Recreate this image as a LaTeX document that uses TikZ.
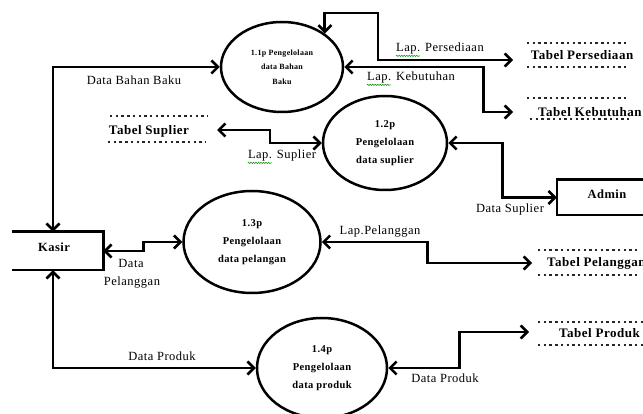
\documentclass[tikz,border=0pt]{standalone}
\usepackage{fontspec}
\setmainfont{Liberation Serif}[LetterSpace=4]
\usetikzlibrary{arrows.meta,shapes.geometric,decorations.pathmorphing}

\tikzset{
  proc/.style={ellipse, draw, line width=2.5pt, inner sep=0pt, align=center,
    font=\fontsize{10.5}{18}\selectfont\bfseries},
  flow/.style={line width=2.8pt, line join=miter,
    {Straight Barb[length=6.5pt,width=13pt,line width=2.6pt]}-{Straight Barb[length=6.5pt,width=13pt,line width=2.6pt]}},
  flowlabel/.style={font=\fontsize{12.5}{14}\selectfont, inner sep=0pt},
  storetext/.style={font=\fontsize{13}{15}\selectfont\bfseries, inner sep=0pt},
  storeline/.style={line width=2.4pt, dash pattern=on 2.4pt off 3.3pt, color=black!85},
  entity/.style={line width=2.6pt},
  entitytext/.style={font=\fontsize{12.5}{14}\selectfont\bfseries, inner sep=0pt},
  spell/.style={draw=green!55!black, line width=0.5pt,
    decorate, decoration={snake, amplitude=0.7pt, segment length=2.5pt}}
}

\begin{document}
\begin{tikzpicture}[x=1pt, y=-1pt]
  \useasboundingbox (0,0) rectangle (643,414);

  % ---------- processes ----------
  \node[proc, minimum width=122pt, minimum height=90pt,
        font=\fontsize{8}{14.5}\selectfont\bfseries] (p11) at (282,67)
        {1.1p Pengelolaan\\data Bahan\\Baku};
  \node[proc, minimum width=124pt, minimum height=94pt] (p12) at (385,143)
        {1.2p\\Pengelolaan\\data suplier};
  \node[proc, minimum width=137pt, minimum height=102pt] (p13) at (252,242)
        {1.3p\\Pengelolaan\\data pelangan};
  \node[proc, minimum width=130pt, minimum height=100pt] (p14) at (322,368)
        {1.4p\\Pengelolaan\\data produk};

  % ---------- external entities (left / right side open at the border) ----------
  \node[minimum width=91pt, minimum height=38pt, inner sep=0pt] (kasir) at (57.5,251) {};
  \draw[entity] (kasir.north west) -- (kasir.north east) -- (kasir.south east) -- (kasir.south west);
  \node[entitytext] (kasirtxt) at (54,247) {Kasir};

  \node[minimum width=100pt, minimum height=35pt, inner sep=0pt] (admin) at (607,197.5) {};
  \draw[entity] (admin.north east) -- (admin.north west) -- (admin.south west) -- (admin.south east);
  \node[entitytext] (admintxt) at (607,194) {Admin};

  % ---------- data stores ----------
  \node[storetext] (tpers) at (582,55) {Tabel Persediaan};
  \draw[storeline] (527,43) -- (627,43);
  \draw[storeline] (527,67) -- (627,67);
  \coordinate (tpersin) at (513,60);

  \node[storetext, anchor=west] (tkeb) at (538,112) {Tabel Kebutuhan};
  \draw[storeline] (527,98) -- (627,98);
  \draw[storeline] (530,119) -- (630,119);
  \coordinate (tkebin) at (513,112);

  \node[storetext] (tsup) at (149,131) {Tabel Suplier};
  \draw[storeline] (110,116) -- (208,116);
  \draw[storeline] (108,142) -- (206,142);
  \coordinate (tsupin) at (217,130);

  \node[storetext, anchor=west] (tpel) at (547,263) {Tabel Pelanggan};
  \draw[storeline] (538,250) -- (640,250);
  \draw[storeline] (538,275) -- (640,275);
  \coordinate (tpelin) at (532,263);

  \node[storetext, anchor=east] (tprod) at (640,333) {Tabel Produk};
  \draw[storeline] (538,322) -- (643,322);
  \draw[storeline] (538,345) -- (643,345);
  \coordinate (tprodin) at (529,332);

  % ---------- data flows ----------
  \coordinate (kx) at (53,0);
  \draw[flow] (kasir.north -| kx) |- (p11.west);
  \draw[flow] (kasir.south -| kx) |- (p14.west);
  \draw[flow] (kasir.east) -- ++(40,0) |- (p13.west);

  \draw[flow] (p11.38) |- (378,13) |- (tpersin);
  \draw[flow] (p11.east) -- ++(139,0) |- (tkebin);
  \draw[flow] (tsupin) -- ++(53,0) |- (p12.west);
  \draw[flow] (p12.east) -- ++(54,0) |- (admin.west);
  \draw[flow] (p13.east) -- ++(106,0) |- (tpelin);
  \draw[flow] (p14.east) -- ++(71,0) |- (tprodin);

  % ---------- flow labels ----------
  \node[flowlabel] (l1) at (134,80) {Data Bahan Baku};
  \node[flowlabel] (l2) at (440,48) {Lap. Persediaan};
  \node[flowlabel] (l3) at (411,77) {Lap. Kebutuhan};
  \node[flowlabel] (l4) at (282,155) {Lap. Suplier};
  \node[flowlabel] (l5) at (510,209) {Data Suplier};
  \node[flowlabel] (l6) at (380,232) {Lap.Pelanggan};
  \node[flowlabel] (l7) at (131,263) {Data};
  \node[flowlabel] (l8) at (132,283) {Pelanggan};
  \node[flowlabel] (l9) at (162,356) {Data Produk};
  \node[flowlabel] (l10) at (445,378) {Data Produk};

  % spelling marks under "Lap."
  \path[spell] (l2.south west) ++(0,2) -- ++(24,0);
  \path[spell] (l3.south west) ++(0,2) -- ++(24,0);
  \path[spell] (l4.south west) ++(0,2) -- ++(24,0);
\end{tikzpicture}
\end{document}
